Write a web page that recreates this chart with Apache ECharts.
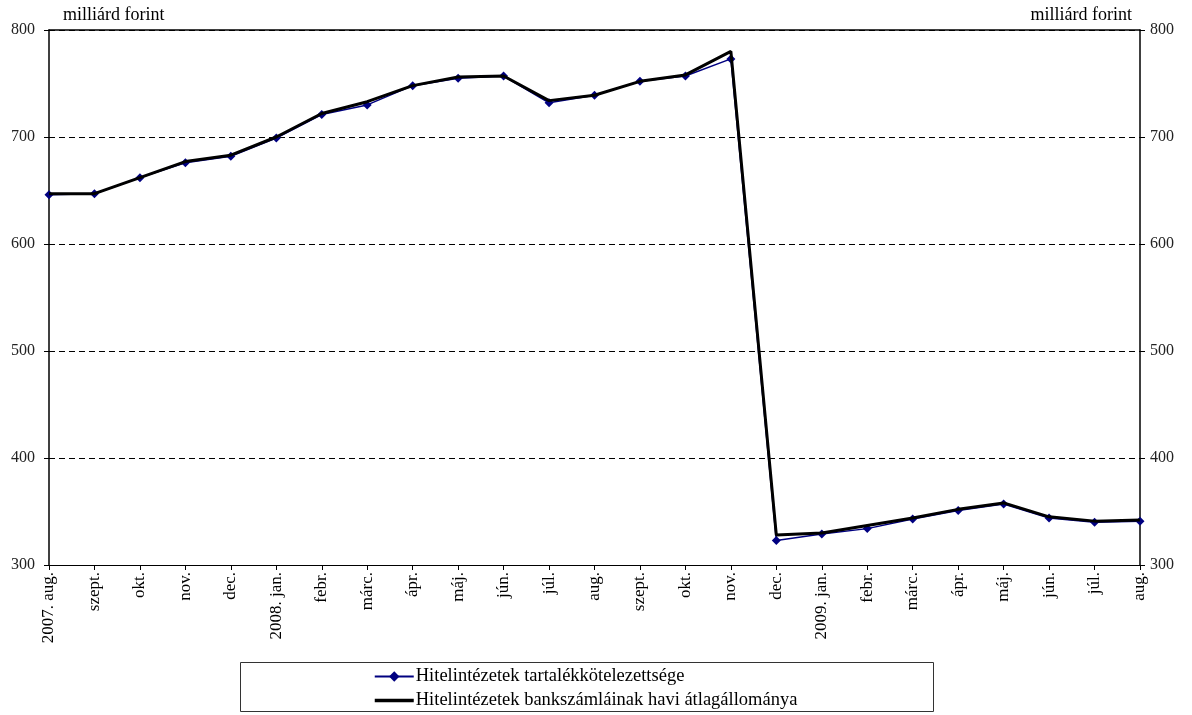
<!DOCTYPE html>
<html>
<head>
<meta charset="utf-8">
<script src="https://cdn.jsdelivr.net/npm/echarts@6/dist/echarts.min.js"></script>
<style>html,body{margin:0;padding:0;background:#fff;}#c{width:1192px;height:715px;}</style>
</head>
<body>
<div id="c"></div>
<script>
var categories = ['2007. aug.','szept.','okt.','nov.','dec.','2008. jan.','febr.','márc.','ápr.','máj.','jún.','júl.','aug.','szept.','okt.','nov.','dec.','2009. jan.','febr.','márc.','ápr.','máj.','jún.','júl.','aug.'];
var reserveReq = [646, 647, 662, 676, 682, 699, 721, 730, 748, 755, 757, 732, 739, 752, 757, 773, 323, 329, 334, 343, 351, 357, 344, 340, 341];
var avgBalance = [647, 647, 662, 677, 683, 700, 722, 733, 748, 756, 757, 734, 739, 752, 758, 780, 328, 330, 337, 344, 352, 358, 345, 341, 342];
var seriesNames = ['Hitelintézetek tartalékkötelezettsége', 'Hitelintézetek bankszámláinak havi átlagállománya'];
var axisName = 'milliárd forint';
var yMin = 300, yMax = 800, yStep = 100;

var FONT = 'Liberation Serif';
var chart = echarts.init(document.getElementById('c'));
chart.setOption({
  animation: false,
  backgroundColor: '#fff',
  textStyle: { fontFamily: FONT },
  grid: { left: 49, right: 52, top: 30, bottom: 150 },
  legend: {
    orient: 'vertical',
    left: 373, top: 667,
    width: 560, height: 60,
    padding: 0,
    itemGap: 5,
    itemWidth: 39, itemHeight: 13,
    data: [
      { name: seriesNames[0] },
      { name: seriesNames[1], itemStyle: { opacity: 0 }, lineStyle: { width: 3.5, color: '#000' } }
    ],
    textStyle: { fontFamily: FONT, fontSize: 18.5, lineHeight: 18, color: '#000', padding: [0,0,0,-3] }
  },
  graphic: [{
    type: 'rect', silent: true,
    shape: { x: 240.5, y: 662.5, width: 693, height: 49 },
    style: { fill: 'none', stroke: '#333', lineWidth: 1 }
  }],
  xAxis: [{
    type: 'category',
    data: categories,
    boundaryGap: false,
    axisLine: { lineStyle: { color: '#000', width: 1 } },
    axisTick: { show: true, length: 5, lineStyle: { color: '#000' } },
    axisLabel: { rotate: 90, margin: 7, interval: 0, fontFamily: FONT, fontSize: 17, color: '#000' }
  }, {
    type: 'category',
    data: categories,
    position: 'top',
    boundaryGap: false,
    axisLine: { lineStyle: { color: '#000', width: 1.5 } },
    axisTick: { show: false },
    axisLabel: { show: false }
  }],
  yAxis: [{
    type: 'value',
    min: yMin, max: yMax, interval: yStep,
    position: 'left',
    name: axisName,
    nameLocation: 'end',
    nameGap: 6,
    nameTextStyle: { fontFamily: FONT, fontSize: 18, color: '#000', align: 'left', padding: [0,0,0,14] },
    axisLine: { show: true, lineStyle: { color: '#000', width: 1.5 } },
    axisTick: { show: true, length: 5, lineStyle: { color: '#000' } },
    axisLabel: { margin: 14, fontFamily: FONT, fontSize: 16, color: '#222' },
    splitLine: { show: true, lineStyle: { color: '#000', type: [6, 4], width: 1 } }
  }, {
    type: 'value',
    min: yMin, max: yMax, interval: yStep,
    position: 'right',
    name: axisName,
    nameLocation: 'end',
    nameGap: 6,
    nameTextStyle: { fontFamily: FONT, fontSize: 18, color: '#000', align: 'right', padding: [0,8,0,0] },
    axisLine: { show: true, lineStyle: { color: '#000', width: 1.5 } },
    axisTick: { show: true, length: 5, lineStyle: { color: '#000' } },
    axisLabel: { margin: 10, fontFamily: FONT, fontSize: 16, color: '#222' },
    splitLine: { show: false }
  }],
  series: [{
    name: seriesNames[0],
    type: 'line',
    data: reserveReq,
    z: 2,
    symbol: 'diamond',
    symbolSize: 9,
    itemStyle: { color: '#000080' },
    lineStyle: { color: '#000080', width: 1.5 }
  }, {
    name: seriesNames[1],
    type: 'line',
    data: avgBalance,
    z: 3,
    symbol: 'none',
    itemStyle: { color: '#000' },
    lineStyle: { color: '#000', width: 3 }
  }]
});
</script>
</body>
</html>
